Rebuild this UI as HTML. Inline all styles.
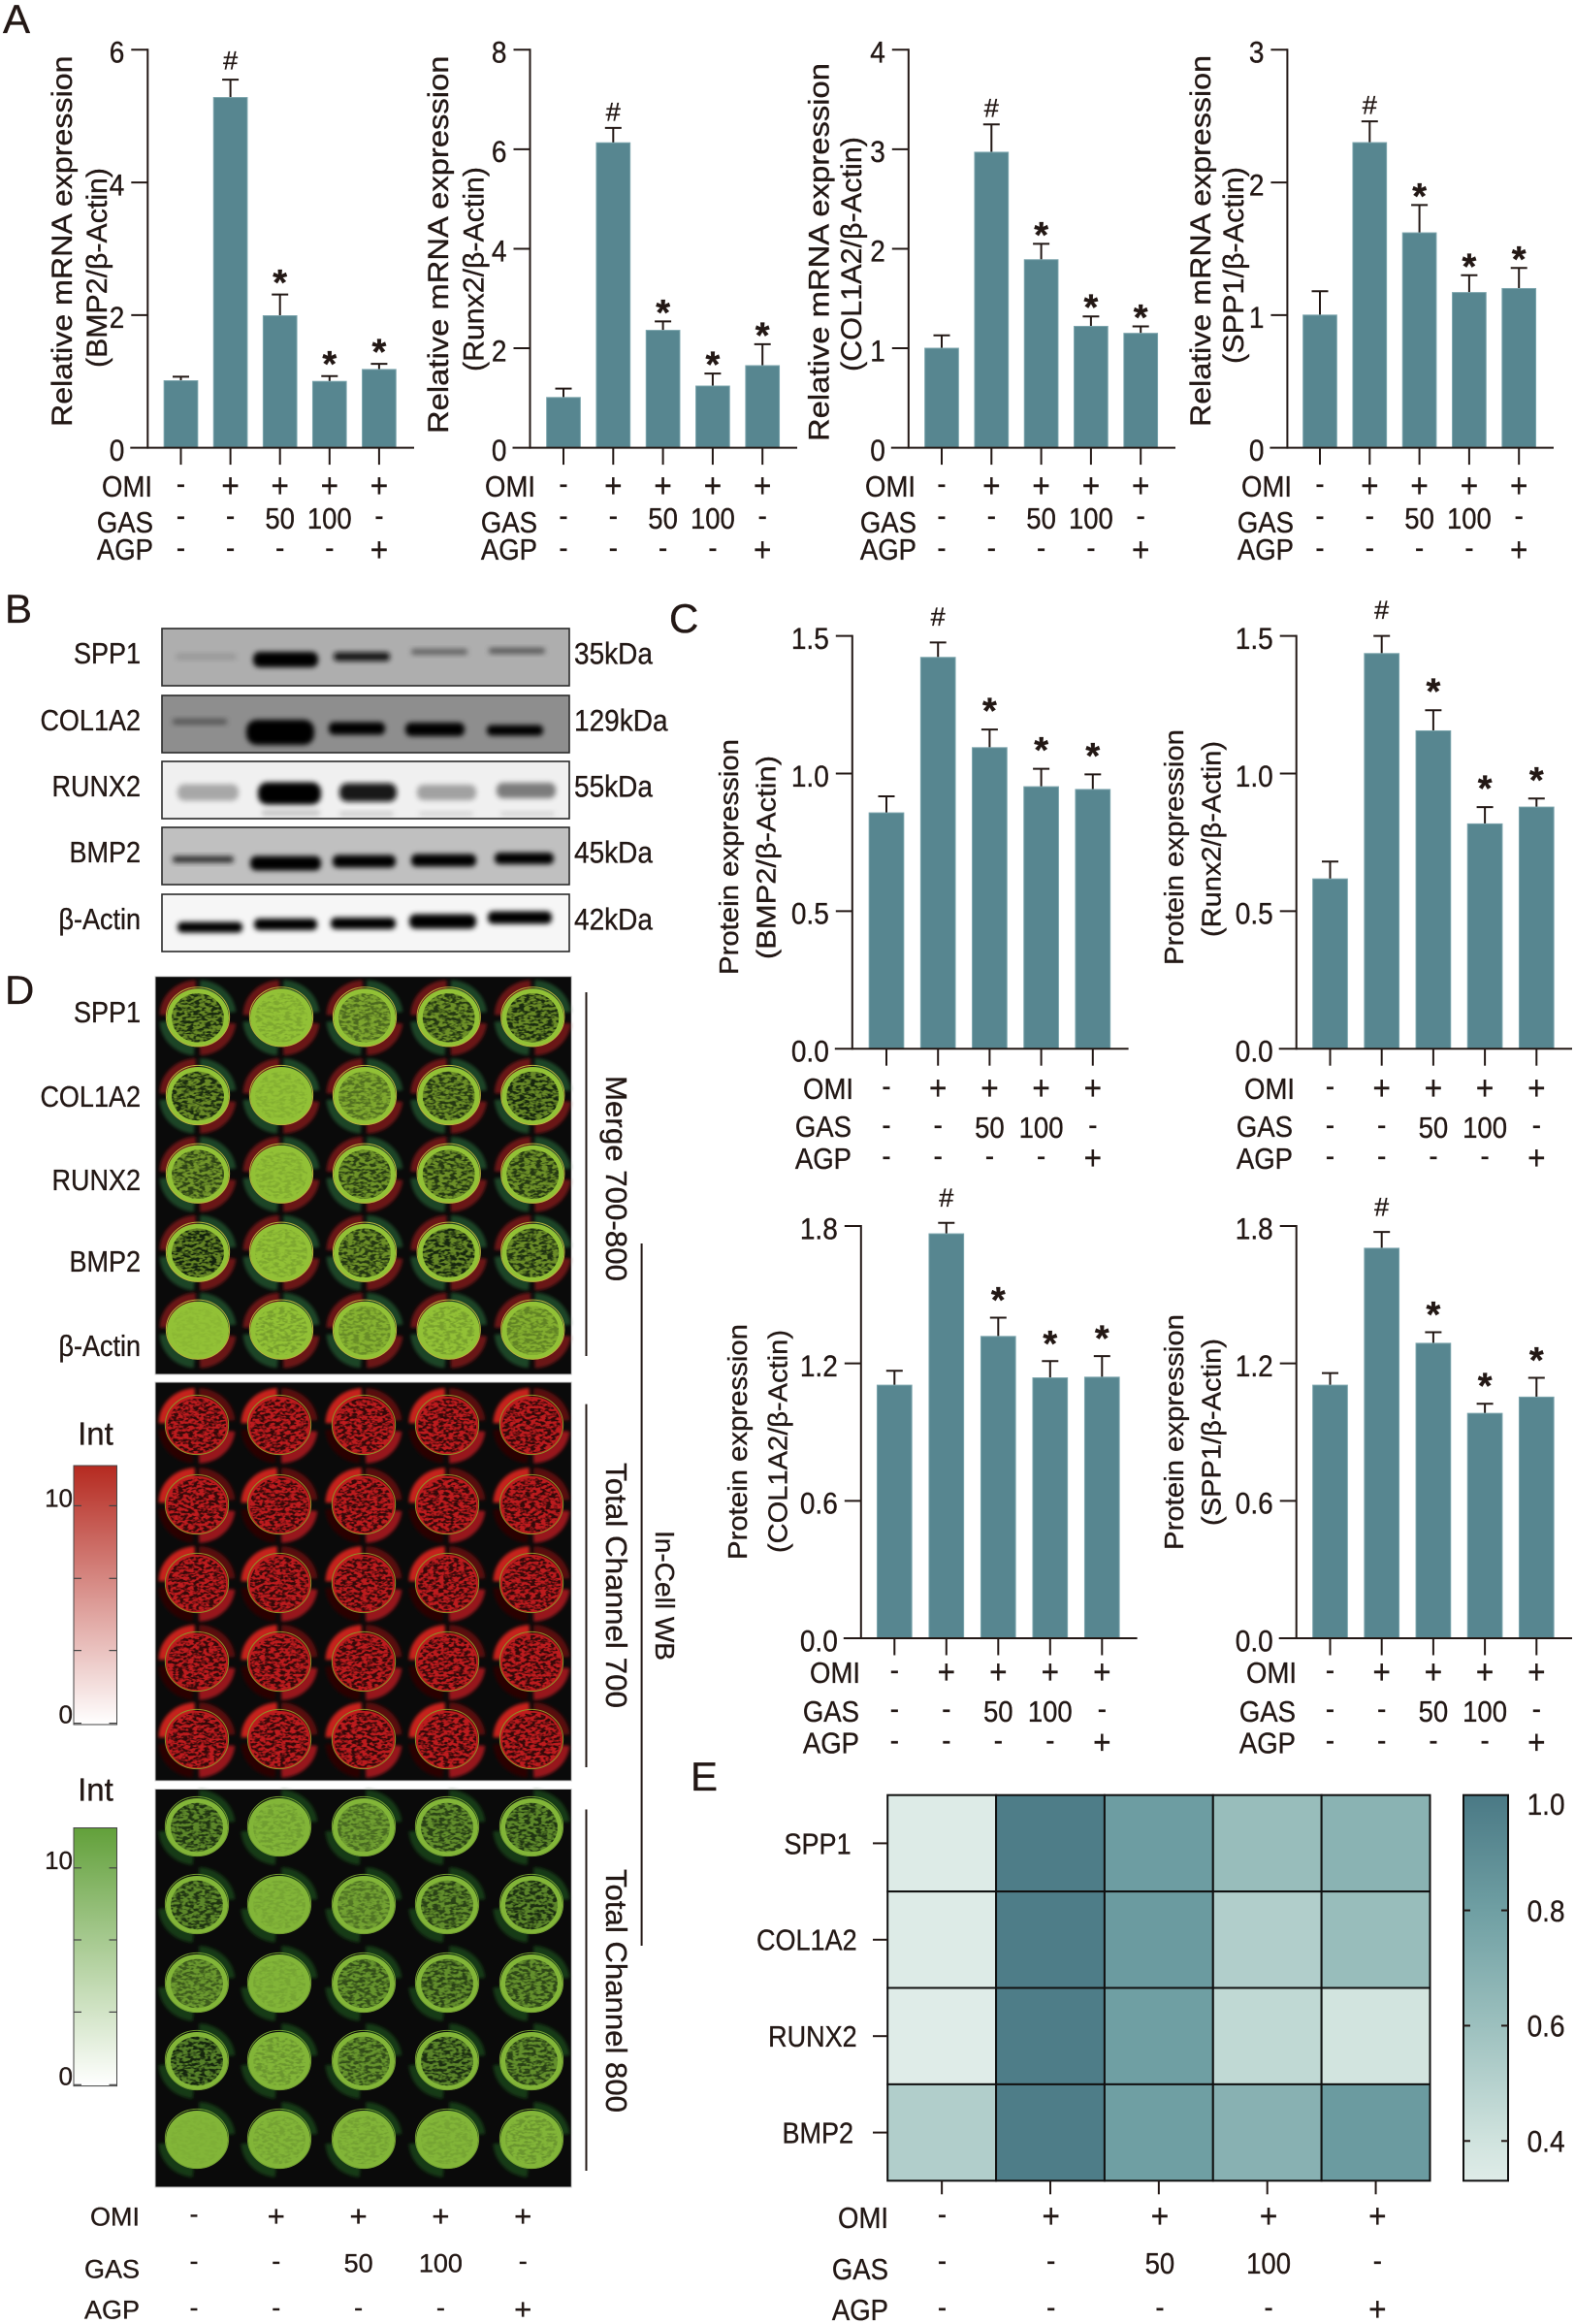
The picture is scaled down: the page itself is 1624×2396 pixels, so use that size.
<!DOCTYPE html>
<html lang="en">
<head>
<meta charset="utf-8">
<title>Multi-panel expression figure</title>
<style>
html,body{margin:0;padding:0;background:#fff}
svg{display:block}
text{font-family:"Liberation Sans","Noto Sans CJK SC",sans-serif;fill:#231815;stroke:#231815;stroke-width:.35px}
</style>
</head>
<body>
<svg id="figure" xmlns="http://www.w3.org/2000/svg" width="1624" height="2396" viewBox="0 0 1624 2396">
<defs>
<filter id="band-blur" x="-30%" y="-60%" width="160%" height="220%"><feGaussianBlur stdDeviation="2.6"/></filter>
<filter id="halo-blur" x="-20%" y="-20%" width="140%" height="140%"><feGaussianBlur stdDeviation="1.6"/></filter>
<filter id="speck" x="0" y="0" width="1" height="1" color-interpolation-filters="sRGB">
<feTurbulence type="fractalNoise" baseFrequency="0.17 0.36" numOctaves="2" seed="4"/>
<feColorMatrix type="matrix" values="0 0 0 0 0.07  0 0 0 0 0.13  0 0 0 0 0.05  5 0 0 0 -2.1"/>
<feComposite in2="SourceAlpha" operator="in"/>
</filter>
<filter id="speck-red" x="0" y="0" width="1" height="1" color-interpolation-filters="sRGB">
<feTurbulence type="fractalNoise" baseFrequency="0.19 0.38" numOctaves="2" seed="9"/>
<feColorMatrix type="matrix" values="0 0 0 0 0.07  0 0 0 0 0.02  0 0 0 0 0.02  5 0 0 0 -2.1"/>
<feComposite in2="SourceAlpha" operator="in"/>
</filter>
<linearGradient id="red-scale" x1="0" y1="0" x2="0" y2="1"><stop offset="0" stop-color="#b52a20"/><stop offset="1" stop-color="#ffffff"/></linearGradient>
<linearGradient id="green-scale" x1="0" y1="0" x2="0" y2="1"><stop offset="0" stop-color="#62a03a"/><stop offset="1" stop-color="#ffffff"/></linearGradient>
<linearGradient id="heat-scale" x1="0" y1="0" x2="0" y2="1"></linearGradient>
</defs>
<g id="root"></g>
</svg>
<script>
// ---------- shared categories ----------
const omiRow = ['-','+','+','+','+'];
const gasRow = ['-','-','50','100','-'];
const agpRow = ['-','-','-','-','+'];
const sigMarks = ['','#','*','*','*'];

// ---------- panel A : mRNA ----------
const mrnaBmp2Values = [1.01,5.28,1.99,1.00,1.18];
const mrnaBmp2Errors = [0.06,0.27,0.32,0.08,0.085];
const mrnaBmp2Ticks = [0,2,4,6];
const mrnaRunx2Values = [1.01,6.13,2.36,1.24,1.65];
const mrnaRunx2Errors = [0.18,0.30,0.18,0.25,0.43];
const mrnaRunx2Ticks = [0,2,4,6,8];
const mrnaCol1a2Values = [1.00,2.97,1.89,1.22,1.15];
const mrnaCol1a2Errors = [0.13,0.28,0.16,0.10,0.07];
const mrnaCol1a2Ticks = [0,1,2,3,4];
const mrnaSpp1Values = [1.00,2.30,1.62,1.17,1.20];
const mrnaSpp1Errors = [0.18,0.16,0.21,0.13,0.155];
const mrnaSpp1Ticks = [0,1,2,3];

// ---------- panel C : protein ----------
const proteinBmp2Values = [0.857,1.422,1.094,0.952,0.942];
const proteinBmp2Errors = [0.060,0.054,0.066,0.065,0.055];
const proteinRunx2Values = [0.617,1.436,1.155,0.817,0.878];
const proteinRunx2Errors = [0.063,0.064,0.075,0.061,0.031];
const proteinTicksA = [0,0.5,1.0,1.5];
const proteinCol1a2Values = [1.105,1.766,1.318,1.137,1.14];
const proteinCol1a2Errors = [0.063,0.048,0.082,0.073,0.092];
const proteinSpp1Values = [1.105,1.703,1.288,0.982,1.053];
const proteinSpp1Errors = [0.053,0.071,0.048,0.042,0.084];
const proteinTicksB = [0,0.6,1.2,1.8];

// ---------- panel E : heatmap ----------
const heatRows = ['SPP1','COL1A2','RUNX2','BMP2'];
const heatSpp1 = [0.34,0.98,0.81,0.62,0.68];
const heatCol1a2 = [0.34,0.98,0.82,0.52,0.62];
const heatRunx2 = [0.33,0.98,0.80,0.46,0.39];
const heatBmp2 = [0.52,0.98,0.80,0.69,0.82];
const heatTicks = [0.4,0.6,0.8,1.0];
const heatStopValues = [0.331,0.4,0.6,0.8,1.0];
const heatStopColors = ['#dfece8','#d0e3de','#9cc0be','#6f9fa3','#4a7985'];

// ---------- panel D : well intensity (speckle level) ----------
const wellRows = ['SPP1','COL1A2','RUNX2','BMP2','β-Actin'];
const mergeSpeck = [[.9,.15,.45,.8,.9],[.9,.1,.4,.8,.95],[.7,.12,.75,.8,.8],[1,.15,.8,.95,.85],[.05,.2,.25,.2,.3]];
const greenSpeck = [[.8,.15,.4,.7,.8],[.8,.1,.35,.7,.85],[.5,.1,.6,.7,.65],[.95,.2,.6,.85,.7],[.03,.12,.12,.1,.2]];

// ---------- panel B : blot labels ----------
const blotRows = ['SPP1','COL1A2','RUNX2','BMP2','β-Actin'];
const blotSizes = ['35kDa','129kDa','55kDa','45kDa','42kDa'];

// ---------- helpers ----------
const NS = 'http://www.w3.org/2000/svg';
const root = document.getElementById('root');
const INK = '#231815';
const BAR = '#578690';
let textStretch = 1.12;
function mk(tag, attrs, parent){
  const el = document.createElementNS(NS, tag);
  for (const k in attrs) el.setAttribute(k, attrs[k]);
  (parent || root).appendChild(el);
  return el;
}
function grp(name, parent){
  const g = mk('g', {}, parent);
  
  
  return g;
}
function txt(parent, str, x, cy, size, anchor, name, shift){
  const k = shift === undefined ? 0.36 : shift;
  const t = mk('text', {x:x, y:cy + size*textStretch*k, 'font-size':size, 'text-anchor':anchor}, parent);
  t.textContent = str;
  
  
  if (textStretch !== 1) {
    const w = t.getComputedTextLength();
    t.setAttribute('font-size', size*textStretch);
    t.setAttribute('textLength', w);
    t.setAttribute('lengthAdjust', 'spacingAndGlyphs');
  }
  return t;
}
function rotText(parent, str, baseX, top, bottom, size, deg, name){
  const c = (top + bottom) / 2;
  const t = mk('text', {x:baseX, y:c, 'font-size':size, 'text-anchor':'middle',
    textLength:bottom-top, lengthAdjust:'spacingAndGlyphs',
    transform:'rotate(' + deg + ' ' + baseX + ' ' + c + ')'}, parent);
  t.textContent = str;
  
  
  return t;
}
function seg(parent, x1, y1, x2, y2, w, name, color){
  const l = mk('line', {x1:x1, y1:y1, x2:x2, y2:y2, stroke:color || INK, 'stroke-width':w}, parent);
  
  
  return l;
}
function drawControls(parent, colAt, rowY, labelY, labelRight, size){
  const rows = [['OMI',omiRow],['GAS',gasRow],['AGP',agpRow]];
  rows.forEach(function(r, ri){
    const key = r[0].toLowerCase();
    txt(parent, r[0], labelRight[ri], labelY[ri], size, 'end', key + '-label');
    r[1].forEach(function(v, i){
      const shift = v === '-' ? 0.26 : (v === '+' ? 0.33 : 0.36);
      const fs = v === '+' ? size + 4 : size;
      txt(parent, v, colAt(i), rowY[ri], fs, 'middle', key + '-value-' + (i+1), shift);
    });
  });
}
function drawBarChart(c){
  const g = grp('chart-' + c.name);
  const ticks = c.ticks;
  const minV = ticks[0], maxV = ticks[ticks.length-1];
  const yOf = function(v){ return c.bottom - (v-minV)/(maxV-minV)*(c.bottom-c.top); };
  const xOf = function(i){ return c.first + i*c.step; };
  const barW = c.barW;
  c.values.forEach(function(v, i){
    const x = xOf(i);
    const er = grp('error-bar-' + (i+1), g);
    mk('line', {x1:x, y1:yOf(v), x2:x, y2:yOf(v + c.errors[i]), stroke:INK, 'stroke-width':2}, er);
    mk('line', {x1:x-8.5, y1:yOf(v + c.errors[i]), x2:x+8.5, y2:yOf(v + c.errors[i]), stroke:INK, 'stroke-width':2}, er);
    const b = mk('rect', {x:x-barW/2, y:yOf(v), width:barW, height:c.bottom-yOf(v), fill:BAR, stroke:'#7ba4ac', 'stroke-width':1}, g);
    
    
    const mark = sigMarks[i];
    if (mark) {
      const my = yOf(v + c.errors[i]) - c.gap;
      const m = mk('text', {x:x, y: mark === '*' ? my + 17.5 : my + 6.5,
        'font-size': mark === '*' ? 38 : 27, 'text-anchor':'middle',
        'font-weight': mark === '*' ? 'bold' : 'normal'}, g);
      m.textContent = mark;
      
      
    }
    seg(g, x, c.bottom, x, c.bottom+17.5, 2, 'x-tick-' + (i+1));
  });
  seg(g, c.axis, c.top-1, c.axis, c.bottom+1, 2, 'y-axis');
  seg(g, c.axis-18, c.bottom, c.end, c.bottom, 2, 'x-axis');
  ticks.forEach(function(t, i){
    const y = yOf(t);
    if (i > 0) seg(g, c.axis-17, y, c.axis, y, 2, 'y-tick-' + i);
    const s = c.decimals ? t.toFixed(c.decimals) : String(t);
    txt(g, s, c.axis-24, y+2, 28, 'end', 'y-tick-label-' + i);
  });
  rotText(g, c.title1, c.t1x, c.t1a, c.t1b, c.tsize, -90, 'y-axis-title');
  rotText(g, c.title2, c.t2x, c.t2a, c.t2b, c.tsize, -90, 'y-axis-subtitle');
  drawControls(g, xOf, c.rowY, c.labelY, c.labelRight, 27.5);
}

// ---------- panel letters ----------
[['A',3,34],['B',5,642],['C',690,652],['D',5,1035],['E',712,1846]].forEach(function(p){
  const t = mk('text', {x:p[1], y:p[2], 'font-size':42});
  t.textContent = p[0];
  
  
});

// ---------- panel A charts ----------
const mrnaFrame = {top:51.3, bottom:461.6, barW:34.7, tsize:30, rowY:[501,534,567], labelY:[501,538,566]};
drawBarChart(Object.assign({}, mrnaFrame, {name:'mrna-bmp2', values:mrnaBmp2Values, errors:mrnaBmp2Errors, ticks:mrnaBmp2Ticks,
  axis:152.3, end:427, first:186.5, step:51.1, gap:17, title1:'Relative mRNA expression', title2:'(BMP2/β-Actin)',
  t1x:74, t1a:57.5, t1b:440, t2x:110, t2a:173, t2b:379, labelRight:[157,158,158]}));
drawBarChart(Object.assign({}, mrnaFrame, {name:'mrna-runx2', values:mrnaRunx2Values, errors:mrnaRunx2Errors, ticks:mrnaRunx2Ticks,
  axis:546.5, end:822, first:581, step:51.3, gap:14, title1:'Relative mRNA expression', title2:'(Runx2/β-Actin)',
  t1x:462, t1a:57.5, t1b:447, t2x:498.6, t2a:172, t2b:383, labelRight:[552,554,554]}));
drawBarChart(Object.assign({}, mrnaFrame, {name:'mrna-col1a2', values:mrnaCol1a2Values, errors:mrnaCol1a2Errors, ticks:mrnaCol1a2Ticks,
  axis:936.8, end:1212, first:971, step:51.3, gap:14, title1:'Relative mRNA expression', title2:'(COL1A2/β-Actin)',
  t1x:854.5, t1a:65, t1b:455, t2x:888, t2a:141, t2b:383, labelRight:[944,945,945]}));
drawBarChart(Object.assign({}, mrnaFrame, {name:'mrna-spp1', values:mrnaSpp1Values, errors:mrnaSpp1Errors, ticks:mrnaSpp1Ticks,
  axis:1327.4, end:1602, first:1361, step:51.3, gap:14, title1:'Relative mRNA expression', title2:'(SPP1/β-Actin)',
  t1x:1248, t1a:57, t1b:440, t2x:1282, t2a:172, t2b:375, labelRight:[1332,1334,1334]}));

// ---------- panel C charts ----------
drawBarChart({name:'protein-bmp2', values:proteinBmp2Values, errors:proteinBmp2Errors, ticks:proteinTicksA, decimals:1,
  top:655.6, bottom:1081.2, barW:35.7, tsize:28, axis:878.8, end:1163.6, first:914, step:53.2, gap:24,
  title1:'Protein expression', title2:'(BMP2/β-Actin)', t1x:761, t1a:762, t1b:1005, t2x:799.5, t2a:779, t2b:989,
  rowY:[1122,1162,1194], labelY:[1122,1161,1194], labelRight:[880,878,878]});
drawBarChart({name:'protein-runx2', values:proteinRunx2Values, errors:proteinRunx2Errors, ticks:proteinTicksA, decimals:1,
  top:655.6, bottom:1081.2, barW:35.7, tsize:28, axis:1336.7, end:1621, first:1371.5, step:53.2, gap:24,
  title1:'Protein expression', title2:'(Runx2/β-Actin)', t1x:1220, t1a:752, t1b:995, t2x:1258.5, t2a:764, t2b:966,
  rowY:[1122,1162,1194], labelY:[1122,1161,1194], labelRight:[1335,1333,1333]});
drawBarChart({name:'protein-col1a2', values:proteinCol1a2Values, errors:proteinCol1a2Errors, ticks:proteinTicksB, decimals:1,
  top:1264, bottom:1689, barW:35.7, tsize:28, axis:887.8, end:1172.6, first:922.3, step:53.5, gap:23,
  title1:'Protein expression', title2:'(COL1A2/β-Actin)', t1x:770, t1a:1365, t1b:1608, t2x:811.5, t2a:1371, t2b:1601,
  rowY:[1724,1764,1796.5], labelY:[1724,1764,1796.5], labelRight:[887,886,886]});
drawBarChart({name:'protein-spp1', values:proteinSpp1Values, errors:proteinSpp1Errors, ticks:proteinTicksB, decimals:1,
  top:1264, bottom:1689, barW:35.7, tsize:28, axis:1336.7, end:1621, first:1371.5, step:53.2, gap:23,
  title1:'Protein expression', title2:'(SPP1/β-Actin)', t1x:1220, t1a:1355, t1b:1598, t2x:1258.5, t2a:1380, t2b:1573,
  rowY:[1724,1764,1796.5], labelY:[1724,1764,1796.5], labelRight:[1337,1336,1336]});

// ---------- panel B blots ----------
const blotTops = [648,717,785,853,922];
const blotBg = ['#aeaeae','#8e8e8e','#f0f0f0','#c0c0c0','#f6f6f6'];
const blotBandsGeom = [
  [[181,677,63,7,'#6a6a6a',.3],[261,680,67,16,'#050505',1],[344,677,58,9,'#0c0c0c',.95],[424,672,58,6,'#4a4a4a',.75],[504,671,58,6,'#4a4a4a',.85]],
  [[178,744,56,6,'#333',.6],[254,755,70,26,'#040404',1],[339,751,58,13,'#050505',1],[418,752,61,14,'#050505',1],[502,753,58,11,'#050505',1]],
  [[183,817,63,17,'#777',.6],[266,818,65,23,'#040404',1],[350,817,59,19,'#111',.95],[430,817,61,16,'#777',.65],[512,815,61,16,'#555',.75],
   [270,838,60,6,'#999',.5],[350,839,56,5,'#aaa',.5],[432,839,56,5,'#bbb',.5],[516,839,56,5,'#bbb',.5]],
  [[178,886,63,7,'#1a1a1a',.85],[258,890,73,15,'#040404',1],[343,888,65,13,'#050505',1],[424,887,67,13,'#050505',1],[510,885,61,12,'#050505',1]],
  [[183,956,67,11,'#050505',1],[262,953,65,12,'#050505',1],[341,952,67,12,'#050505',1],[422,950,69,15,'#050505',1],[503,946,66,13,'#050505',1]]
];
const blotGroup = grp('western-blot-panel');
blotRows.forEach(function(name, r){
  const key = name === 'β-Actin' ? 'beta-actin' : name.toLowerCase();
  const row = grp('blot-' + key, blotGroup);
  mk('rect', {x:167, y:blotTops[r], width:420, height:59, fill:blotBg[r]}, row);
  blotBandsGeom[r].forEach(function(b, i){
    const band = mk('rect', {x:b[0], y:b[1]-b[3]/2, width:b[2], height:b[3], rx:b[3]/2.4, fill:b[4], opacity:b[5], filter:'url(#band-blur)'}, row);
    
    
  });
  mk('rect', {x:167, y:blotTops[r], width:420, height:59, fill:'none', stroke:'#2a2a2a', 'stroke-width':1.6}, row);
  txt(blotGroup, name, 145, blotTops[r]+25, 27, 'end', 'blot-label-' + key);
  txt(blotGroup, blotSizes[r], 592, blotTops[r]+25, 28, 'start', 'blot-size-' + key);
});

// ---------- panel D well plates ----------
function pie(cx, cy, r, a0, a1){
  const p = function(a){ return (cx + r*Math.cos(a*Math.PI/180)).toFixed(1) + ' ' + (cy + r*Math.sin(a*Math.PI/180)).toFixed(1); };
  return 'M' + cx + ' ' + cy + 'L' + p(a0) + 'A' + r + ' ' + r + ' 0 0 1 ' + p(a1) + 'Z';
}
function drawPlate(name, x, y, w, h, colX, rowY, scheme, levels){
  const g = grp('plate-' + name);
  mk('rect', {x:x, y:y, width:w, height:h, fill:'#0a0a0a'}, g);
  rowY.forEach(function(cy, r){
    colX.forEach(function(cx, c){
      const well = grp('well-r' + (r+1) + '-c' + (c+1), g);
      const rx = 32, ry = 30;
      const halo = mk('g', {transform:'translate(' + cx + ' ' + cy + ') scale(1 ' + (ry/rx) + ')', filter:'url(#halo-blur)'}, well);
      if (scheme.hTL) mk('path', {d:pie(-1,-3,rx*1.2,180,268), fill:scheme.hTL}, halo);
      if (scheme.hTR) mk('path', {d:pie(1,-3,rx*1.2,272,355), fill:scheme.hTR}, halo);
      if (scheme.hBL) mk('path', {d:pie(-1,3,rx*1.2,95,178), fill:scheme.hBL}, halo);
      if (scheme.hBR) mk('path', {d:pie(1,3,rx*1.2,5,88), fill:scheme.hBR}, halo);
      mk('ellipse', {cx:cx, cy:cy, rx:rx, ry:ry, fill:scheme.disc}, well);
      const lvl = levels ? levels[r][c] : scheme.level;
      const inner = scheme.inner;
      if (scheme.tint && lvl > .2) mk('ellipse', {cx:cx, cy:cy, rx:rx*inner, ry:ry*inner, fill:scheme.tint, opacity:lvl*.45}, well);
      mk('ellipse', {cx:cx, cy:cy, rx:rx*inner, ry:ry*inner, fill:'#000', filter:'url(#' + scheme.speck + ')', opacity:lvl}, well);
      if (scheme.ring) mk('ellipse', {cx:cx, cy:cy-1, rx:rx*1.02, ry:ry*1.02, fill:'none', stroke:scheme.ring, 'stroke-width':1}, well);
    });
  });
  mk('rect', {x:x, y:y, width:w, height:h, fill:'none', stroke:'#cfcfcf', 'stroke-width':1}, g);
  return g;
}
drawPlate('merge-700-800', 160, 1006.7, 429.3, 410.3, [204,290,376,462.7,549.3], [1049.3,1130,1210.7,1291.7,1371.7],
  {disc:'#92c136', hTL:'#6a1418', hTR:'#1f4526', hBL:'#1f4526', hBR:'#6a1418', inner:.84, speck:'speck', tint:'#2c3a12', ring:'#b9b23c'}, mergeSpeck);
drawPlate('total-channel-700', 160, 1425, 429.3, 411, [203,288,375,461,548], [1470,1552,1633,1714,1794],
  {disc:'#bd1b1e', hTL:'#c6201c', hTR:'#5a0d0f', hBL:'#2a0606', hBR:'#98161a', inner:.94, speck:'speck-red', level:.8, ring:'#8f8f28'}, null);
drawPlate('total-channel-800', 160, 1844.5, 429.3, 410.5, [203,288,375,461,548], [1884,1964,2045,2125,2206],
  {disc:'#82b538', hTR:'#163a18', hBL:'#163a18', inner:.84, speck:'speck', tint:'#1d3a14', ring:'#6f9a30'}, greenSpeck);

const plateLabels = [1042,1129,1215,1299,1386];
const plateLabelGroup = grp('plate-row-labels');
wellRows.forEach(function(name, i){
  txt(plateLabelGroup, name, 145, plateLabels[i]+1, 27, 'end', 'plate-label-' + (name === 'β-Actin' ? 'beta-actin' : name.toLowerCase()));
});
const sideGroup = grp('plate-brackets');
seg(sideGroup, 604.5, 1023, 604.5, 1398, 2, 'merge-bracket');
seg(sideGroup, 604.5, 1447.6, 604.5, 1822, 2, 'channel-700-bracket');
seg(sideGroup, 604.5, 1865.5, 604.5, 2238, 2, 'channel-800-bracket');
seg(sideGroup, 661.6, 1282, 661.6, 2006, 2, 'in-cell-wb-bracket');
rotText(sideGroup, 'Merge 700-800', 625, 1109, 1321, 31, 90, 'merge-label');
rotText(sideGroup, 'Total Channel 700', 625, 1508, 1761, 31, 90, 'channel-700-label');
rotText(sideGroup, 'Total Channel 800', 625, 1927, 2178, 31, 90, 'channel-800-label');
rotText(sideGroup, 'In-Cell WB', 676, 1578, 1712, 28, 90, 'in-cell-wb-label');

textStretch = 1;
function drawIntBar(name, top, bottom, grad, intY, ten, zero, tickYs){
  const g = grp('intensity-scale-' + name);
  txt(g, 'Int', 98.5, intY, 33, 'middle', 'intensity-title');
  const r = mk('rect', {x:76, y:top, width:44.5, height:bottom-top, fill:'url(#' + grad + ')', stroke:'#444', 'stroke-width':1}, g);
  
  
  tickYs.forEach(function(y, i){
    seg(g, 76, y, 84, y, 1.2, 'intensity-tick-left-' + (i+1), '#444');
    seg(g, 112.5, y, 120.5, y, 1.2, 'intensity-tick-right-' + (i+1), '#444');
  });
  txt(g, '10', 75, ten, 26, 'end', 'intensity-label-10');
  txt(g, '0', 75, zero, 26, 'end', 'intensity-label-0');
}
drawIntBar('red', 1511, 1778, 'red-scale', 1477.5, 1544, 1767, [1552.4,1627.3,1701.6,1776.6]);
drawIntBar('green', 1884.5, 2150.6, 'green-scale', 1844.5, 1917.5, 2140, [1925.8,2000,2074.4,2149.3]);

const plateControls = grp('plate-treatment-table');
const plateColumnStart = 200, plateColumnStep = 84.8;
drawControls(plateControls, function(i){ return plateColumnStart + i*plateColumnStep; }, [2284.6,2333,2381], [2285,2339,2381], [144,144,144], 27);
textStretch = 1.12;

// ---------- panel E heatmap ----------
function heatColor(v){
  let i = 0;
  while (i < heatStopValues.length-2 && v > heatStopValues[i+1]) i++;
  const t = Math.max(0, Math.min(1, (v-heatStopValues[i])/(heatStopValues[i+1]-heatStopValues[i])));
  const hex = function(s, p){ return parseInt(s.substr(p,2),16); };
  const a = heatStopColors[i], b = heatStopColors[i+1];
  const ch = function(p){ return Math.round(hex(a,p) + (hex(b,p)-hex(a,p))*t); };
  return 'rgb(' + ch(1) + ',' + ch(3) + ',' + ch(5) + ')';
}
const heatGroup = grp('heatmap-panel');
const heatMatrix = [heatSpp1, heatCol1a2, heatRunx2, heatBmp2];
const heatLeft = 915.2, heatRight = 1474.5, heatTop = 1850.7, heatBottom = 2248.3;
const heatCellW = (heatRight-heatLeft)/5, heatCellH = (heatBottom-heatTop)/4;
const heatLabelRight = [877.6,883.6,883.6,880];
heatMatrix.forEach(function(row, r){
  row.forEach(function(v, c){
    const cell = mk('rect', {x:heatLeft + c*heatCellW, y:heatTop + r*heatCellH, width:heatCellW, height:heatCellH, fill:heatColor(v), stroke:'#111', 'stroke-width':2}, heatGroup);
    
    
  });
  const cy = heatTop + (r+0.5)*heatCellH;
  seg(heatGroup, 900, cy, heatLeft, cy, 2, 'heatmap-row-tick-' + (r+1));
  txt(heatGroup, heatRows[r], heatLabelRight[r], cy, 27, 'end', 'heatmap-row-label-' + heatRows[r].toLowerCase());
});
for (let c = 0; c < 5; c++) {
  const x = heatLeft + (c+0.5)*heatCellW;
  seg(heatGroup, x, heatBottom, x, heatBottom+14, 2, 'heatmap-column-tick-' + (c+1));
}
drawControls(heatGroup, function(i){ return 971.5 + i*112.2; }, [2285,2333,2381], [2286,2339,2381], [916,916,916], 27.5);

// colour bar
const gradEl = document.getElementById('heat-scale');
heatStopValues.slice().reverse().forEach(function(v){
  const s = document.createElementNS(NS, 'stop');
  s.setAttribute('offset', (1-(v-heatStopValues[0])/(1-heatStopValues[0])).toFixed(4));
  s.setAttribute('stop-color', heatColor(v));
  gradEl.appendChild(s);
});
const cbar = grp('heatmap-colorbar', heatGroup);
const cbTop = heatTop, cbBottom = heatBottom;
const cbY = function(v){ return cbBottom - (v-heatStopValues[0])/(1-heatStopValues[0])*(cbBottom-cbTop); };
const cbRect = mk('rect', {x:1509, y:cbTop, width:46, height:cbBottom-cbTop, fill:'url(#heat-scale)', stroke:'#111', 'stroke-width':2}, cbar);


heatTicks.forEach(function(t, i){
  const y = cbY(t);
  if (t < 1) {
    seg(cbar, 1509, y, 1516, y, 2, 'colorbar-tick-left-' + (i+1));
    seg(cbar, 1548, y, 1555, y, 2, 'colorbar-tick-right-' + (i+1));
  }
  txt(cbar, t.toFixed(1), 1574.6, t === 1 ? y+9 : y, 28, 'start', 'colorbar-label-' + (i+1));
});
</script>
</body>
</html>
